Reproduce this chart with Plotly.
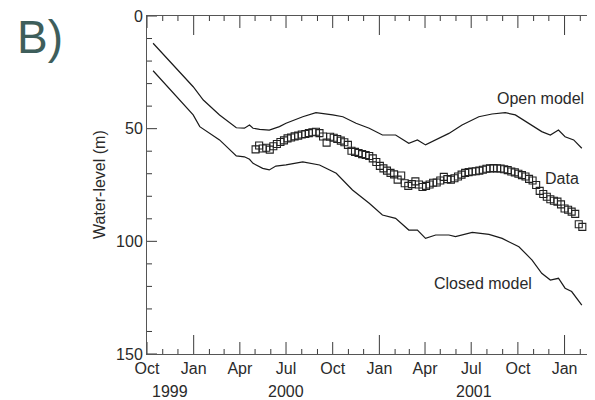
import plotly.graph_objects as go
import pandas as pd

# Open model (depth below surface, m)
open_dates = ["1999-10-13", "1999-12-31", "2000-01-20", "2000-02-21", "2000-03-25", "2000-04-10",
              "2000-04-20", "2000-04-27", "2000-05-10", "2000-05-29", "2000-06-18", "2000-07-01",
              "2000-08-03", "2000-08-29", "2000-10-01", "2000-10-21", "2000-11-16", "2000-12-12",
              "2001-01-07", "2001-02-02", "2001-02-28", "2001-03-17", "2001-04-02", "2001-04-28",
              "2001-05-18", "2001-06-13", "2001-07-16", "2001-08-11", "2001-09-06", "2001-09-26",
              "2001-10-22", "2001-11-17", "2001-12-04", "2001-12-20", "2002-01-02", "2002-01-19",
              "2002-02-04"]
open_vals = [12.1, 31.4, 37.3, 43.9, 49.6, 49.8,
             48.4, 49.8, 50.3, 50.6, 49.1, 47.6,
             44.7, 42.9, 43.9, 44.7, 47.6, 49.8,
             52.8, 52.8, 56.5, 55.0, 57.2, 54.3,
             52.1, 48.4, 44.7, 43.5, 42.9, 43.9,
             47.6, 51.3, 52.8, 50.6, 53.6, 55.0,
             58.7]

# Closed model
closed_dates = ["1999-10-13", "1999-12-31", "2000-01-13", "2000-02-21", "2000-03-25", "2000-04-10",
                "2000-04-20", "2000-04-27", "2000-05-16", "2000-05-29", "2000-06-11", "2000-07-01",
                "2000-08-03", "2000-09-05", "2000-10-08", "2000-11-09", "2000-12-12", "2001-01-07",
                "2001-02-02", "2001-02-28", "2001-03-17", "2001-04-02", "2001-04-22", "2001-05-18",
                "2001-05-31", "2001-07-03", "2001-08-05", "2001-08-31", "2001-10-03", "2001-10-29",
                "2001-11-17", "2001-12-04", "2001-12-20", "2002-01-02", "2002-01-15", "2002-02-04"]
closed_vals = [24.3, 43.9, 49.1, 55.0, 62.1, 62.5,
               63.6, 65.4, 67.6, 68.3, 66.6, 66.1,
               64.7, 66.1, 69.8, 77.2, 83.1, 88.3,
               89.8, 95.0, 95.0, 98.7, 97.2, 97.2,
               97.9, 96.0, 96.9, 98.7, 102.4, 108.3,
               114.2, 117.2, 116.4, 120.8, 122.3, 128.3]

# Observed water level (weekly, from 2000-05-02)
data_start = "2000-05-02"
data_vals = [59.2, 57.5, 58.8, 58.5, 59.3, 57.8, 56.8, 55.9, 55.2, 54.3,
             53.9, 53.4, 53.1, 52.6, 52.4, 52.0, 51.6, 51.4, 52.0, 53.5,
             56.2, 53.6, 54.0, 54.6, 55.3, 56.0, 57.2, 59.8, 60.3, 60.8,
             61.3, 61.7, 62.1, 63.2, 64.8, 66.5, 67.6, 68.6, 69.6, 70.3,
             72.6, 70.8, 74.2, 75.4, 74.6, 73.4, 74.8, 75.9, 75.4, 74.8,
             74.0, 73.9, 73.0, 71.4, 72.4, 72.6, 72.0, 71.2, 70.4, 69.6,
             69.3, 69.0, 68.9, 68.6, 68.2, 67.8, 67.6, 67.5, 67.6, 67.7,
             68.0, 68.4, 69.0, 69.4, 70.0, 70.6, 71.2, 72.3, 73.0, 75.0,
             77.6, 79.0, 80.2, 81.3, 82.0, 82.4, 83.6, 85.4, 86.0, 86.8,
             87.8, 92.4, 93.6]
data_dates = pd.date_range(data_start, periods=len(data_vals), freq="7D")

# Axis ticks
qtick_vals = [d.strftime("%Y-%m-%d") for d in pd.date_range("1999-10-01", "2002-01-01", freq="QS-OCT")]
qtick_text = [pd.Timestamp(d).strftime("%b") for d in qtick_vals]
month_ticks = [d.strftime("%Y-%m-%d") for d in pd.date_range("1999-10-01", "2002-03-01", freq="MS")]
year_labels = ["1999", "2000", "2001"]
year_pos = ["1999-11-15", "2000-07-01", "2001-07-06"]
y_ticks = [0, 50, 100, 150]
y_minor = list(range(0, 151, 10))

FONT = "Liberation Sans"
INK = "#2a2a2a"
TICK = "#3a3a3a"
PLOT_W, PLOT_H = 448, 338

fig = go.Figure()
fig.add_trace(go.Scatter(x=open_dates, y=open_vals, mode="lines",
                         line=dict(color="#1a1a1a", width=1.2), showlegend=False))
fig.add_trace(go.Scatter(x=closed_dates, y=closed_vals, mode="lines",
                         line=dict(color="#1a1a1a", width=1.2), showlegend=False))
fig.add_trace(go.Scatter(x=data_dates, y=data_vals, mode="markers",
                         marker=dict(symbol="square-open", size=7, color="#222",
                                     line=dict(width=1.1)), showlegend=False))

xrange = ["1999-10-01", "2002-03-02"]
yrange = [150, 0]

# page body has an 8px default margin, so the figure is offset by 8px
fig.update_layout(
    width=595, height=400,
    margin=dict(l=139, r=8, t=8, b=54, autoexpand=False),
    paper_bgcolor="white", plot_bgcolor="rgba(0,0,0,0)",
    font=dict(family=FONT, size=16, color=INK),
    xaxis=dict(type="date", range=xrange, tickmode="array", tickvals=qtick_vals,
               ticktext=qtick_text, ticks="", showline=True, linecolor="#555", linewidth=1,
               mirror=True, showgrid=False, zeroline=False,
               tickfont=dict(size=16, color=INK), automargin=False,
               ticklabeloverflow="allow"),
    yaxis=dict(range=yrange, tickmode="array", tickvals=y_ticks, ticks="",
               showline=True, linecolor="#555", linewidth=1, mirror=False,
               showgrid=False, zeroline=False, tickfont=dict(size=16, color=INK),
               automargin=False, ticklabeloverflow="allow"),
)

# tick marks drawn inside the frame (bottom and mirrored top), lengths in pixels
for d in month_ticks:
    ts = pd.Timestamp(d)
    if ts.month == 1:
        n = 19
    elif ts.month in (4, 7, 10):
        n = 12
    else:
        n = 5
    frac = n / PLOT_H
    fig.add_shape(type="line", xref="x", yref="paper", x0=d, x1=d, y0=0, y1=frac,
                  line=dict(color=TICK, width=1), layer="above")
    fig.add_shape(type="line", xref="x", yref="paper", x0=d, x1=d, y0=1, y1=1 - frac,
                  line=dict(color=TICK, width=1), layer="above")
for v in y_minor:
    n = 10 if v in y_ticks else 5
    fig.add_shape(type="line", xref="paper", yref="y", x0=0, x1=n / PLOT_W, y0=v, y1=v,
                  line=dict(color=TICK, width=1), layer="above")

for lab, pos in zip(year_labels, year_pos):
    fig.add_annotation(x=pos, y=0, xref="x", yref="paper", text=lab, showarrow=False,
                       yanchor="middle", yshift=-37, font=dict(size=16, color=INK))

fig.add_annotation(x="2001-11-14", y=36.4, xref="x", yref="y", text="Open model",
                   showarrow=False, font=dict(size=16, color=INK))
fig.add_annotation(x="2001-12-27", y=72.1, xref="x", yref="y", text="Data",
                   showarrow=False, font=dict(size=16, color=INK))
fig.add_annotation(x="2001-07-24", y=118.7, xref="x", yref="y", text="Closed model",
                   showarrow=False, font=dict(size=16, color=INK))

fig.add_annotation(x=0, y=0.5, xref="paper", yref="paper", xshift=-48, text="Water-level (m)",
                   textangle=-90, showarrow=False, xanchor="center", yanchor="middle",
                   font=dict(size=16, color=INK))

fig.add_annotation(x=-132/448, y=1 + (16 - 37) / 338, xref="paper", yref="paper", text="B)",
                   showarrow=False, xanchor="left", yanchor="middle",
                   font=dict(size=46, color="#3e5e5b", family=FONT))

fig.write_html("out.html")
